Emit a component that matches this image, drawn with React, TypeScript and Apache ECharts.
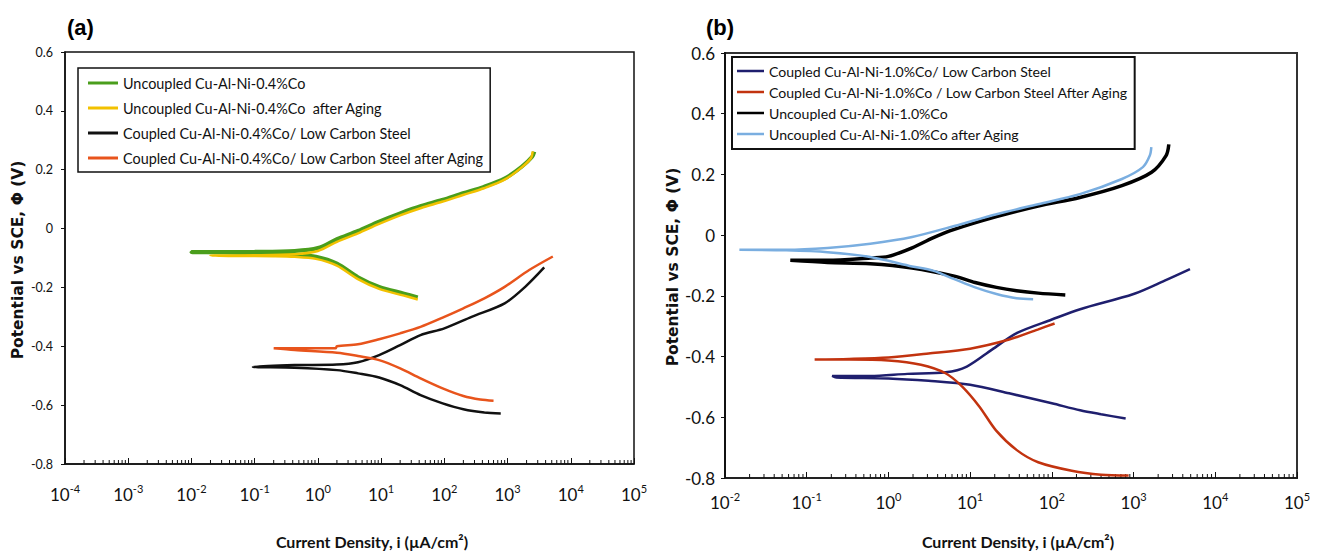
import React, { useEffect, useRef } from 'react';
import * as echarts from 'echarts';

// ---------- Panel (a) data: [current density µA/cm², potential V] ----------
const aUncoupled = [
  [38, -0.234], [23, -0.221], [9.3, -0.198], [4.3, -0.165], [2.0, -0.119], [0.93, -0.096],
  [0.43, -0.089], [0.2, -0.086], [0.05, -0.082], [0.01, -0.080], [0.1, -0.079], [0.43, -0.076],
  [1.0, -0.066], [2.0, -0.036], [4.3, -0.008], [9.3, 0.024], [20, 0.052], [43, 0.077],
  [92, 0.097], [197, 0.120], [424, 0.142], [912, 0.171], [1670, 0.210], [2450, 0.244], [2650, 0.261],
];
const aUncoupledAged = [
  [38, -0.241], [23, -0.228], [9.3, -0.205], [4.3, -0.172], [2.0, -0.126], [0.93, -0.103],
  [0.43, -0.096], [0.2, -0.094], [0.05, -0.093], [0.02, -0.092], [0.1, -0.091], [0.43, -0.087],
  [1.0, -0.076], [2.0, -0.045], [4.3, -0.016], [9.3, 0.016], [20, 0.045], [43, 0.070],
  [92, 0.091], [197, 0.114], [424, 0.137], [912, 0.167], [1670, 0.208], [2350, 0.240], [2500, 0.262],
];
const aCoupled = [
  [780, -0.628], [430, -0.625], [200, -0.614], [94, -0.594], [42, -0.566], [20, -0.532],
  [9.3, -0.506], [4.3, -0.492], [2.0, -0.481], [0.43, -0.473], [0.094, -0.470], [0.43, -0.464],
  [2.0, -0.462], [4.3, -0.454], [9.3, -0.430], [20, -0.396], [42, -0.362], [100, -0.339],
  [270, -0.300], [900, -0.254], [1900, -0.198], [3800, -0.132],
];
const aCoupledAged = [
  [600, -0.585], [370, -0.581], [200, -0.569], [94, -0.543], [42, -0.509], [20, -0.475],
  [9.3, -0.447], [4.3, -0.433], [2.0, -0.422], [0.43, -0.413], [0.2, -0.407], [0.43, -0.407],
  [1.9, -0.407], [2.0, -0.400], [4.3, -0.393], [9.3, -0.376], [20, -0.356], [42, -0.334],
  [100, -0.300], [200, -0.271], [430, -0.237], [900, -0.198], [2200, -0.141], [5200, -0.095],
];

// ---------- Panel (b) data ----------
const bCoupled = [
  [800, -0.604], [400, -0.590], [222, -0.577], [100, -0.554], [30, -0.521], [10, -0.493],
  [3.1, -0.480], [1.0, -0.472], [0.23, -0.469], [0.205, -0.464], [0.6, -0.464], [1.7, -0.457],
  [5.0, -0.452], [9.1, -0.433], [18.5, -0.377], [37.6, -0.322], [100, -0.278], [222, -0.244],
  [1000, -0.194], [2400, -0.150], [4900, -0.112],
];
const bCoupledAged = [
  [870, -0.792], [400, -0.789], [175, -0.776], [68, -0.748], [37.6, -0.709], [20.7, -0.643],
  [13, -0.565], [8, -0.499], [5, -0.455], [2.5, -0.427], [1.0, -0.413], [0.33, -0.410],
  [0.125, -0.410], [0.33, -0.408], [1.0, -0.403], [3.1, -0.390], [10, -0.374], [30, -0.344],
  [67, -0.311], [108, -0.291],
];
const bUncoupled = [
  [146, -0.197], [68, -0.191], [37, -0.183], [21, -0.172], [11.5, -0.156], [6.4, -0.135],
  [1.95, -0.108], [0.6, -0.094], [0.18, -0.090], [0.063, -0.083], [0.18, -0.083], [0.6, -0.075],
  [1.0, -0.070], [1.95, -0.042], [3.5, -0.009], [6.4, 0.019], [21, 0.061], [68, 0.096],
  [220, 0.124], [720, 0.163], [1660, 0.207], [2500, 0.262], [2700, 0.299],
];
const bUncoupledAged = [
  [59, -0.211], [37, -0.208], [21, -0.194], [11.5, -0.172], [6.4, -0.145], [3.5, -0.117],
  [1.95, -0.103], [0.6, -0.072], [0.18, -0.056], [0.056, -0.050], [0.015, -0.048], [0.056, -0.048],
  [0.18, -0.042], [0.6, -0.028], [1.95, -0.006], [6.4, 0.030], [21, 0.069], [68, 0.102],
  [220, 0.135], [720, 0.185], [1300, 0.224], [1580, 0.262], [1650, 0.290],
];

// ---------- Axes ----------
const aXRange = [1e-4, 1e5];
const bXRange = [1e-2, 1e5];
const yRange = [-0.8, 0.6];
const yStep = 0.2;

const aNames = [
  'Uncoupled Cu-Al-Ni-0.4%Co',
  'Uncoupled Cu-Al-Ni-0.4%Co  after Aging',
  'Coupled Cu-Al-Ni-0.4%Co/ Low Carbon Steel',
  'Coupled Cu-Al-Ni-0.4%Co/ Low Carbon Steel after Aging',
];
const bNames = [
  'Coupled Cu-Al-Ni-1.0%Co/ Low Carbon Steel',
  'Coupled Cu-Al-Ni-1.0%Co / Low Carbon Steel After Aging',
  'Uncoupled Cu-Al-Ni-1.0%Co',
  'Uncoupled Cu-Al-Ni-1.0%Co after Aging',
];

function minorTickValues(lo: number, hi: number) {
  const out: number[][] = [];
  for (let d = Math.round(Math.log10(lo)); d < Math.round(Math.log10(hi)); d++) {
    for (let m = 2; m <= 9; m++) out.push([m * Math.pow(10, d)]);
  }
  return out;
}

const NARROW = "Lato, 'Liberation Sans', Arial, sans-serif";

export default function App() {
  const ref = useRef<HTMLDivElement>(null);
  useEffect(() => {
    if (!ref.current) return;
    const chart = echarts.init(ref.current, null, { renderer: 'svg' });

    const xLabel = (size: number, sup: number) => ({
      fontFamily: NARROW,
      color: '#111',
      formatter: (v: number) => `{b|10}{s|${Math.round(Math.log10(v))}}`,
      rich: {
        b: { fontSize: size, lineHeight: 20, verticalAlign: 'bottom', fontFamily: NARROW, color: '#111' },
        s: { fontSize: sup, lineHeight: 11, verticalAlign: 'top', fontFamily: NARROW, color: '#111' },
      },
    });

    const minorSeries = (idx: number, range: number[]) => ({
      type: 'custom',
      xAxisIndex: idx,
      yAxisIndex: idx,
      silent: true,
      z: 1,
      data: minorTickValues(range[0], range[1]),
      renderItem: (_p: any, api: any) => {
        const pt = api.coord([api.value(0), yRange[0]]);
        return {
          type: 'line',
          shape: { x1: pt[0], y1: pt[1], x2: pt[0], y2: pt[1] - 4 },
          style: { stroke: '#111', lineWidth: 1 },
        };
      },
    });

    const line = (name: string, data: number[][], color: string, width: number, idx: number) => ({
      name,
      type: 'line',
      xAxisIndex: idx,
      yAxisIndex: idx,
      data,
      showSymbol: false,
      symbol: 'none',
      smooth: 0.3,
      lineStyle: { color, width },
      itemStyle: { color },
      z: 3,
    });

    const yAxis = (idx: number, gridIndex: number, size: number) => ({
      type: 'value',
      gridIndex,
      min: yRange[0],
      max: yRange[1],
      interval: yStep,
      splitLine: { show: false },
      axisLine: { show: true, onZero: false, lineStyle: { color: '#111', width: idx === 0 ? 1.5 : 2 } },
      axisTick: { show: true, inside: false, length: 4, lineStyle: { color: '#111' } },
      axisLabel: {
        fontFamily: NARROW,
        fontSize: size,
        color: '#111',
        margin: idx === 0 ? 12 : 10,
        formatter: (v: number) => {
          const r = Math.round(v * 10) / 10;
          return r === 0 ? '0' : r.toFixed(1);
        },
      },
    });

    const option: any = {
      animation: false,
      backgroundColor: '#ffffff',
      grid: [
        { left: 65, top: 52, width: 569, height: 412, show: true, borderColor: '#111', borderWidth: 1.5, backgroundColor: 'transparent' },
        { left: 725, top: 53, width: 572, height: 425, show: true, borderColor: '#333', borderWidth: 2, backgroundColor: 'transparent' },
      ],
      xAxis: [
        {
          type: 'log', logBase: 10, gridIndex: 0, min: aXRange[0], max: aXRange[1], splitNumber: 9,
          splitLine: { show: false },
          axisLine: { show: true, onZero: false, lineStyle: { color: '#111', width: 1.5 } },
          axisTick: { show: true, inside: true, length: 6, lineStyle: { color: '#111' } },
          axisLabel: { ...xLabel(17, 11), margin: 19 },
        },
        {
          type: 'log', logBase: 10, gridIndex: 1, min: bXRange[0], max: bXRange[1], splitNumber: 7,
          splitLine: { show: false },
          axisLine: { show: true, onZero: false, lineStyle: { color: '#222', width: 2 } },
          axisTick: { show: true, inside: true, length: 6, lineStyle: { color: '#111' } },
          axisLabel: { ...xLabel(17, 11), margin: 13 },
        },
      ],
      yAxis: [yAxis(0, 0, 12.5), yAxis(1, 1, 17)],
      legend: [
        {
          left: 78, top: 68, orient: 'vertical',
          borderColor: '#111', borderWidth: 1.5, padding: [6, 6, 5, 10],
          itemGap: 7, itemWidth: 30, itemHeight: 3, icon: 'rect',
          textStyle: { fontFamily: NARROW, fontSize: 14.4, color: '#111', lineHeight: 18 },
          data: aNames,
        },
        {
          left: 732, top: 57, orient: 'vertical',
          borderColor: '#111', borderWidth: 2, padding: [5, 6, 6, 5],
          itemGap: 3, itemWidth: 27, itemHeight: 2.5, icon: 'rect',
          textStyle: { fontFamily: NARROW, fontSize: 14.1, color: '#111', lineHeight: 18 },
          data: bNames,
        },
      ],
      graphic: [
        { type: 'text', x: 67, y: 27, style: { text: '(a)', font: 'bold 22px Arial, "Liberation Sans", sans-serif', fill: '#000', textVerticalAlign: 'middle', verticalAlign: 'middle' } },
        { type: 'text', x: 706, y: 27, style: { text: '(b)', font: 'bold 22px Arial, "Liberation Sans", sans-serif', fill: '#000', textVerticalAlign: 'middle', verticalAlign: 'middle' } },
        { type: 'text', x: 18, y: 260, rotation: Math.PI / 2, style: { text: 'Potential vs SCE, Φ (V)', font: 'bold 15.5px "DejaVu Sans", Verdana, sans-serif', fill: '#111', textAlign: 'center', align: 'center', textVerticalAlign: 'middle', verticalAlign: 'middle' } },
        { type: 'text', x: 673, y: 267, rotation: Math.PI / 2, style: { text: 'Potential vs SCE, Φ (V)', font: 'bold 15.5px "DejaVu Sans", Verdana, sans-serif', fill: '#111', textAlign: 'center', align: 'center', textVerticalAlign: 'middle', verticalAlign: 'middle' } },
        { type: 'text', x: 372, y: 541, style: { text: 'Current Density, i (µA/cm²)', font: `bold 16px ${NARROW}`, fill: '#111', textAlign: 'center', align: 'center', textVerticalAlign: 'middle', verticalAlign: 'middle' } },
        { type: 'text', x: 1018, y: 541, style: { text: 'Current Density, i (µA/cm²)', font: `bold 16px ${NARROW}`, fill: '#111', textAlign: 'center', align: 'center', textVerticalAlign: 'middle', verticalAlign: 'middle' } },
      ],
      series: [
        minorSeries(0, aXRange),
        minorSeries(1, bXRange),
        line(aNames[0], aUncoupled, '#4a9e1c', 4, 0),
        line(aNames[1], aUncoupledAged, '#f2c100', 2.5, 0),
        line(aNames[2], aCoupled, '#111111', 2.5, 0),
        line(aNames[3], aCoupledAged, '#e8541c', 2.5, 0),
        line(bNames[0], bCoupled, '#1f1f6e', 2.5, 1),
        line(bNames[1], bCoupledAged, '#c2330f', 2.5, 1),
        line(bNames[2], bUncoupled, '#000000', 3.5, 1),
        line(bNames[3], bUncoupledAged, '#7aaee0', 2.5, 1),
      ],
    };
    chart.setOption(option);
    return () => chart.dispose();
  }, []);
  return <div ref={ref} style={{ position: 'absolute', left: 0, top: 0, width: 1320, height: 554 }} />;
}
